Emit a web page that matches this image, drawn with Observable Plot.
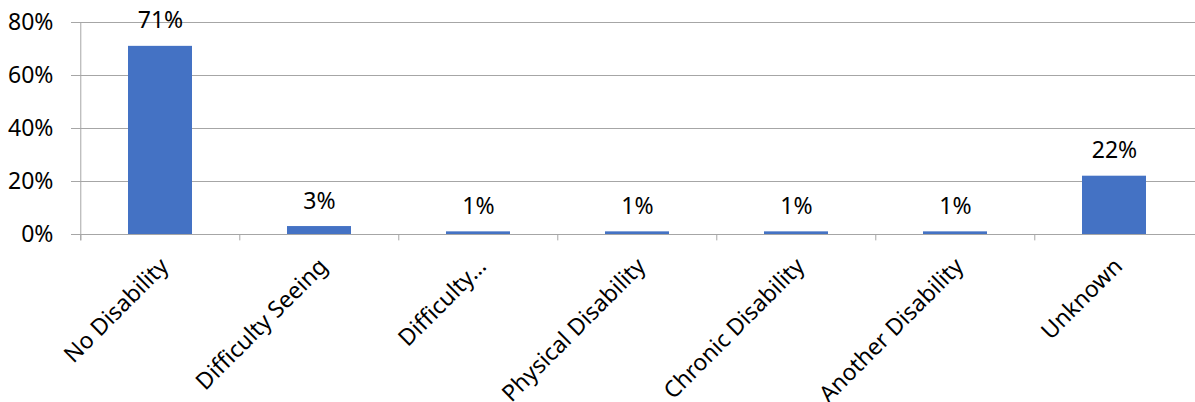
<!DOCTYPE html>
<html><head><meta charset="utf-8">
<script src="https://cdn.jsdelivr.net/npm/d3@7"></script>
<script src="https://cdn.jsdelivr.net/npm/@observablehq/plot@0.6"></script>
<style>
html,body{margin:0;padding:0;background:#fff;}
svg{display:block;}
</style>
</head><body>
<div id="chart"></div>
<script>
const categories = ["No Disability","Difficulty Seeing","Difficulty…","Physical Disability","Chronic Disability","Another Disability","Unknown"];
const values = [71, 3, 1, 1, 1, 1, 22];
const yTicks = [0, 20, 40, 60, 80];

const data = categories.map((c, i) => ({category: c, value: values[i]}));
const font = "'Noto Sans', sans-serif";
const W = 1195, ML = 79, MR = 0;
const step = (W - ML - MR) / categories.length;

const chart = Plot.plot({
  width: W,
  height: 402,
  marginLeft: ML,
  marginRight: MR,
  marginTop: 22,
  marginBottom: 168,
  style: {fontFamily: font, fontSize: "23px", color: "#000", background: "#fff"},
  x: {domain: categories, paddingInner: 0.6, paddingOuter: 0.3, label: null},
  y: {domain: [0, 80], label: null},
  marks: [
    Plot.ruleY(yTicks, {stroke: "#a6a6a6", strokeWidth: 1, insetLeft: -8}),
    Plot.ruleX(categories, {x: d => d, y1: 80, y2: -2.4, dx: -step / 2, stroke: "#a6a6a6", filter: (d, i) => i === 0}),
    Plot.ruleX(categories, {x: d => d, y1: 0, y2: -2.4, dx: -step / 2, stroke: "#a6a6a6"}),
    Plot.barY(data, {x: "category", y: "value", fill: "#4472c4"}),
    Plot.text(data, {x: "category", y: "value", text: d => d.value + "%", lineAnchor: "bottom", dy: -18, fontSize: 23, fill: "#000"}),
    Plot.axisY({ticks: yTicks, tickFormat: d => d + "%", tickSize: 0, tickPadding: 26, fontSize: 23, fill: "#000"}),
    Plot.axisX({tickSize: 0, tickRotate: -45, tickPadding: 28, dx: 4, fontSize: 23, fill: "#000"})
  ]
});
document.getElementById("chart").append(chart);
</script>
</body></html>
